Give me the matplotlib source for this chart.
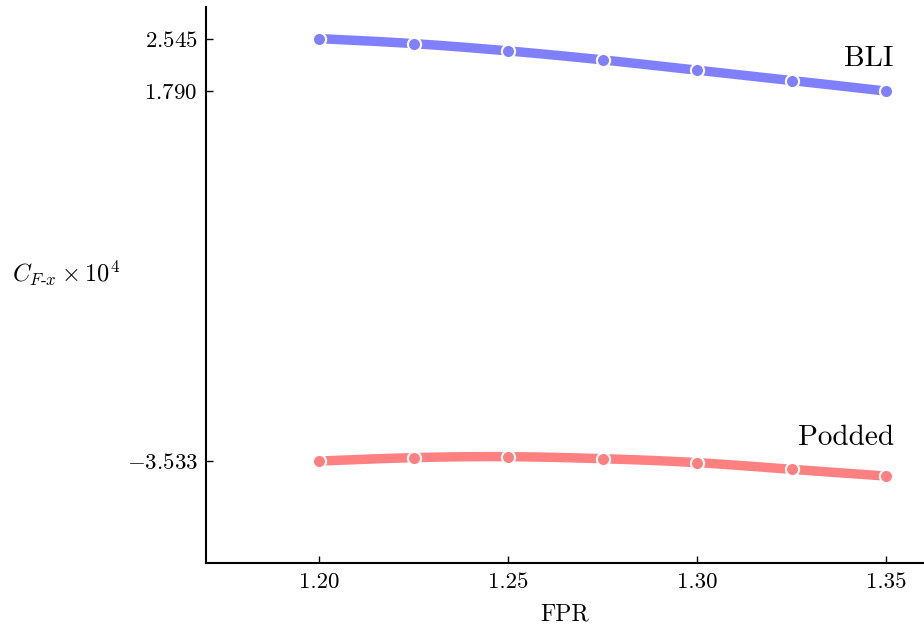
import numpy as np
import matplotlib
matplotlib.use("Agg")
import matplotlib.pyplot as plt

plt.rcParams['font.family'] = 'serif'
plt.rcParams['font.serif'] = ['cmr10', 'DejaVu Serif']
plt.rcParams['mathtext.fontset'] = 'cm'
plt.rcParams['axes.formatter.use_mathtext'] = True

fpr = [1.200, 1.225, 1.250, 1.275, 1.300, 1.325, 1.350]
bli = [2.545, 2.473, 2.368, 2.239, 2.090, 1.942, 1.790]
podded = [-3.533, -3.484, -3.470, -3.499, -3.556, -3.652, -3.749]

xtick_vals = [1.20, 1.25, 1.30, 1.35]
xtick_labels = ["1.20", "1.25", "1.30", "1.35"]
ytick_vals = [2.545, 1.790, -3.533]
ytick_labels = [r"$2.545$", r"$1.790$", r"$-3.533$"]

blue = "#8080ff"
red = "#ff8080"


def natural_spline(x, y, n=300):
    x = np.asarray(x, float)
    y = np.asarray(y, float)
    m = len(x)
    h = np.diff(x)
    A = np.zeros((m, m))
    r = np.zeros(m)
    A[0, 0] = 1
    A[-1, -1] = 1
    for i in range(1, m - 1):
        A[i, i - 1] = h[i - 1]
        A[i, i] = 2 * (h[i - 1] + h[i])
        A[i, i + 1] = h[i]
        r[i] = 3 * ((y[i + 1] - y[i]) / h[i] - (y[i] - y[i - 1]) / h[i - 1])
    c = np.linalg.solve(A, r)
    b = (y[1:] - y[:-1]) / h - h * (2 * c[:-1] + c[1:]) / 3
    d = (c[1:] - c[:-1]) / (3 * h)
    xs = np.linspace(x[0], x[-1], n)
    idx = np.clip(np.searchsorted(x, xs) - 1, 0, m - 2)
    dx = xs - x[idx]
    ys = y[idx] + b[idx] * dx + c[idx] * dx ** 2 + d[idx] * dx ** 3
    return xs, ys


fig = plt.figure(figsize=(9.24, 6.26), dpi=100)
ax = fig.add_axes([206 / 924, 1 - 563 / 626, 1 - 206 / 924, (563 - 7) / 626])

for vals, col in [(bli, blue), (podded, red)]:
    xs, ys = natural_spline(fpr, vals)
    ax.plot(xs, ys, color=col, lw=6.8, solid_capstyle='butt', zorder=2)
    ax.plot(fpr, vals, 'o', color=col, ms=9.5, mec='white', mew=1.5, zorder=3)

ax.text(1.352, 2.26, "BLI", fontsize=21, ha='right', va='center')
ax.text(1.352, -3.20, "Podded", fontsize=21, ha='right', va='center')

ax.set_xlim(1.17, 1.36)
ax.set_ylim(-5.0, 3.0)
ax.set_xticks(xtick_vals)
ax.set_xticklabels(xtick_labels)
ax.set_yticks(ytick_vals)
ax.set_yticklabels(ytick_labels)
ax.tick_params(direction='in', labelsize=16.5, length=5, width=1)
ax.tick_params(axis='x', pad=7)
ax.tick_params(axis='y', pad=6)

for s in ['top', 'right']:
    ax.spines[s].set_visible(False)
for s in ['left', 'bottom']:
    ax.spines[s].set_linewidth(1.5)

ax.set_xlabel("FPR", fontsize=17, labelpad=8)
ax.set_ylabel(r"$C_{F\text{-}x}\times 10^4$", fontsize=17.5, rotation=0, labelpad=0)
ax.yaxis.set_label_coords((12 - 206) / 718, 0.522)
ax.yaxis.label.set_ha('left')
ax.yaxis.label.set_va('center')

fig.savefig("out.png", dpi=100)
